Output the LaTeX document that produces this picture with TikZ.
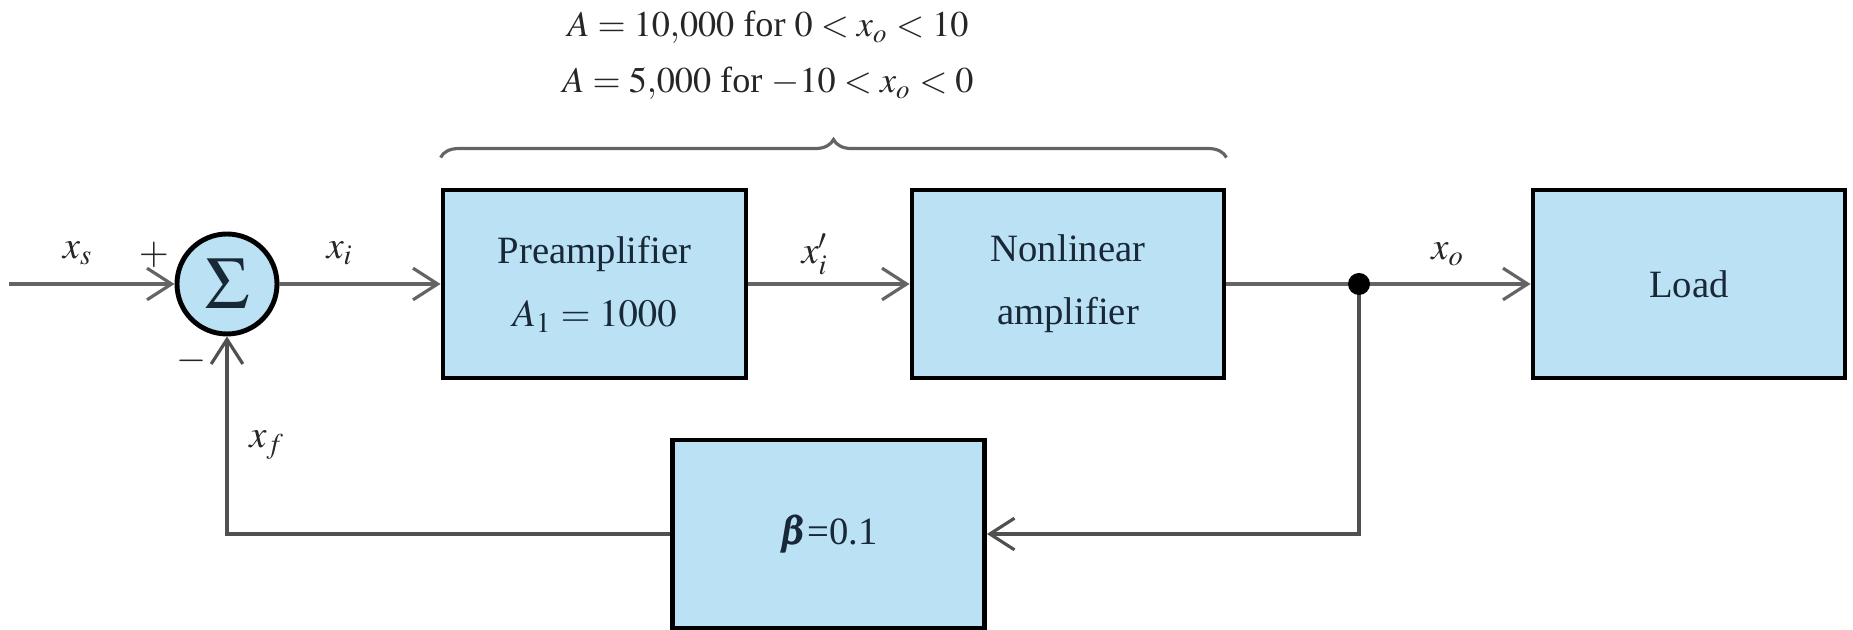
\documentclass[tikz,border=0pt]{standalone}
\usepackage{mathptmx}
\usepackage{fontspec}
\setmainfont{Liberation Serif}
\usepackage{bm}
\usetikzlibrary{arrows.meta,decorations.pathreplacing}
\definecolor{boxblue}{RGB}{187,225,244}
\definecolor{wire}{RGB}{100,100,100}
\definecolor{ink}{RGB}{25,40,55}
\tikzset{
  blk/.style={draw=black,line width=1.4pt,fill=boxblue,minimum width=3.12cm,minimum height=1.88cm,align=center,text=ink,font=\fontsize{11}{18}\selectfont},
  sumcirc/.style={circle,draw=black,line width=1.4pt,fill=boxblue,minimum size=1.0cm,inner sep=0pt,text=ink},
  sig/.style={draw=wire,line width=0.9pt,-{Straight Barb[length=7pt,width=9pt]}},
  lbl/.style={font=\fontsize{11}{13}\selectfont,text=black!85}
}
\begin{document}
\begin{tikzpicture}
\useasboundingbox (0,0) rectangle (18.53,-6.30);
\node[sumcirc] (sum) at (2.27,-2.84) {\fontsize{21}{21}\selectfont$\Sigma$};
\node[blk,minimum width=3.03cm] (pre) at (5.945,-2.84) {Preamplifier\\$A_1=1000$};
\node[blk] (nla) at (10.68,-2.84) {Nonlinear\\amplifier};
\node[blk] (load) at (16.89,-2.84) {Load};
\node[blk] (beta) at (8.285,-5.34) {$\bm{\beta}$=0.1};
\coordinate (in) at (0.09,-2.84);
\coordinate (tap) at (13.59,-2.84);
\draw[sig] (in) -- (sum.west);
\draw[sig] (sum.east) -- (pre.west);
\draw[sig] (pre.east) -- (nla.west);
\draw[sig] (nla.east) -- (load.west);
\draw[sig,draw=wire!80!black] (tap) |- (beta.east);
\draw[sig,draw=wire!80!black] (beta.west) -| (sum.south);
\node[circle,fill=black,inner sep=0pt,minimum size=0.22cm] (tapdot) at (tap) {};
% signal names
\node[lbl] (xs) at (0.78,-2.53) {$x_s$};
\node[lbl] (plus) at (1.54,-2.55) {$+$};
\node[lbl] (minus) at (1.92,-3.61) {$-$};
\node[lbl] (xi) at (3.40,-2.53) {$x_i$};
\node[lbl] (xip) at (8.15,-2.54) {$x_i'$};
\node[lbl] (xo) at (14.48,-2.54) {$x_o$};
\node[lbl] (xf) at (2.67,-4.45) {$x_f$};
% gain of the two stages
\draw[wire,line width=0.9pt,decorate,decoration={brace,amplitude=0.18cm}]
  ([yshift=0.3cm]pre.north west) -- ([yshift=0.3cm]nla.north east);
\node[lbl,anchor=base,font=\fontsize{10.3}{12}\selectfont] (gainhi) at (7.68,-0.37) {$A=10{,}000$ for $0<x_o<10$};
\node[lbl,anchor=base,font=\fontsize{10.3}{12}\selectfont] (gainlo) at (7.68,-0.93) {$A=5{,}000$ for $-10<x_o<0$};
\end{tikzpicture}
\end{document}
